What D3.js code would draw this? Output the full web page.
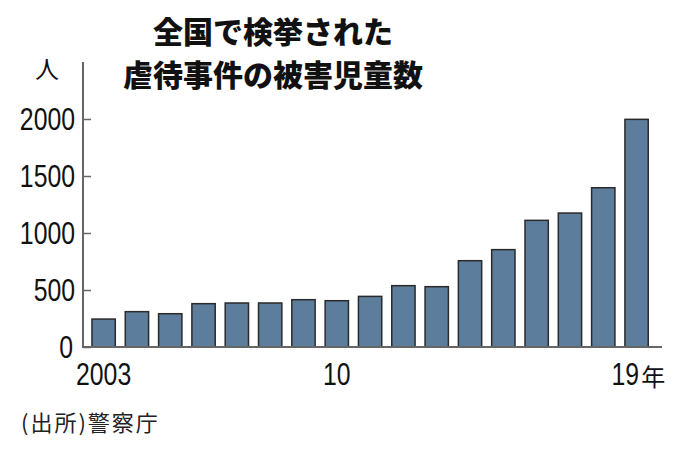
<!DOCTYPE html>
<html><head><meta charset="utf-8">
<script src="https://cdn.jsdelivr.net/npm/d3@7"></script>
<style>
html,body{margin:0;padding:0;background:#fff;}
svg{display:block;}
</style></head>
<body>
<svg id="chart" width="680" height="451"></svg>
<script>
const titleLines = ["全国で検挙された", "虐待事件の被害児童数"];
const unitLabel = "人";
const sourceLabel = "(出所)警察庁";
const years = [2003,2004,2005,2006,2007,2008,2009,2010,2011,2012,2013,2014,2015,2016,2017,2018,2019];
const values = [245,310,292,380,386,386,415,406,444,538,529,757,854,1111,1175,1397,1997];
const yTicks = [0,500,1000,1500,2000];
const xTickLabels = {2003:"2003", 2010:"10", 2019:"19"};
const yearSuffix = "年";

const svg = d3.select("#chart");
const numFont = "'Liberation Sans',Arial,sans-serif";
const cjkFont = "'Noto Sans CJK JP','Noto Sans JP',sans-serif";
const condense = 0.775;
const digitW = 17.8 * condense;

const x = d3.scaleBand().domain(years).range([85.3, 654.9]).paddingInner(0.3).paddingOuter(0.2);
const y = d3.scaleLinear().domain([0, 2000]).range([347, 119]);

// title
svg.append("g").selectAll("text").data(titleLines).join("text")
  .attr("x", 273).attr("y", (d,i)=> 43 + i*43)
  .attr("text-anchor","middle")
  .attr("font-family", cjkFont).attr("font-weight", 900)
  .attr("font-size", 30).attr("fill","#111")
  .text(d=>d);

// unit
svg.append("text").attr("x", 47).attr("y", 78).attr("text-anchor","middle")
  .attr("font-family", cjkFont).attr("font-size", 24).attr("fill","#111").text(unitLabel);

// bars
svg.append("g").selectAll("rect").data(years).join("rect")
  .attr("x", d=>x(d)).attr("width", x.bandwidth())
  .attr("y", (d,i)=>y(values[i])).attr("height", (d,i)=>y(0)-y(values[i]))
  .attr("fill", "#5d7d9c").attr("stroke", "#2a2a2a").attr("stroke-width", 1.5);

// y axis
const yAxis = d3.axisRight(y).tickValues(yTicks).tickSize(8).tickFormat("");
const gy = svg.append("g").attr("transform","translate(83,0)").call(yAxis);
gy.select(".domain").remove();
gy.selectAll(".tick line").attr("stroke","#666").attr("stroke-width",1.5);
svg.append("line").attr("x1",83).attr("x2",83).attr("y1",62).attr("y2",y(0)+1)
  .attr("stroke","#666").attr("stroke-width",2);
svg.append("g").selectAll("text").data(yTicks).join("text")
  .attr("transform", d => `translate(${d===0 ? 73 : 75},${y(d) + 11}) scale(${condense},1)`)
  .attr("text-anchor","end")
  .attr("font-family", numFont).attr("font-size", 32).attr("fill","#111")
  .text(d=>d);

// x axis
svg.append("line").attr("x1",83).attr("x2",662).attr("y1",y(0)).attr("y2",y(0))
  .attr("stroke","#666").attr("stroke-width",2);
const xlab = years.filter(d=>xTickLabels[d]);
const xg = svg.append("g");
xg.selectAll("text.num").data(xlab).join("text").attr("class","num")
  .attr("transform", d => `translate(${d===2019 ? x(d)+x.bandwidth()/2-25 : x(d)+x.bandwidth()/2},385) scale(${condense},1)`)
  .attr("text-anchor", d=> d===2019 ? "start" : "middle")
  .attr("font-family", numFont).attr("font-size", 32).attr("fill","#111")
  .text(d=>xTickLabels[d]);
xg.selectAll("text.suffix").data(xlab.filter(d=>d===2019)).join("text").attr("class","suffix")
  .attr("x", d => x(d)+x.bandwidth()/2-25 + xTickLabels[d].length*digitW + 2)
  .attr("y", 386)
  .attr("font-family", cjkFont).attr("font-size", 24).attr("fill","#111")
  .text(yearSuffix);

// source
svg.append("text").attr("x", 21).attr("y", 431)
  .attr("font-family", cjkFont).attr("font-size", 22).attr("letter-spacing", 2)
  .attr("fill","#222").text(sourceLabel);
</script>
</body></html>
